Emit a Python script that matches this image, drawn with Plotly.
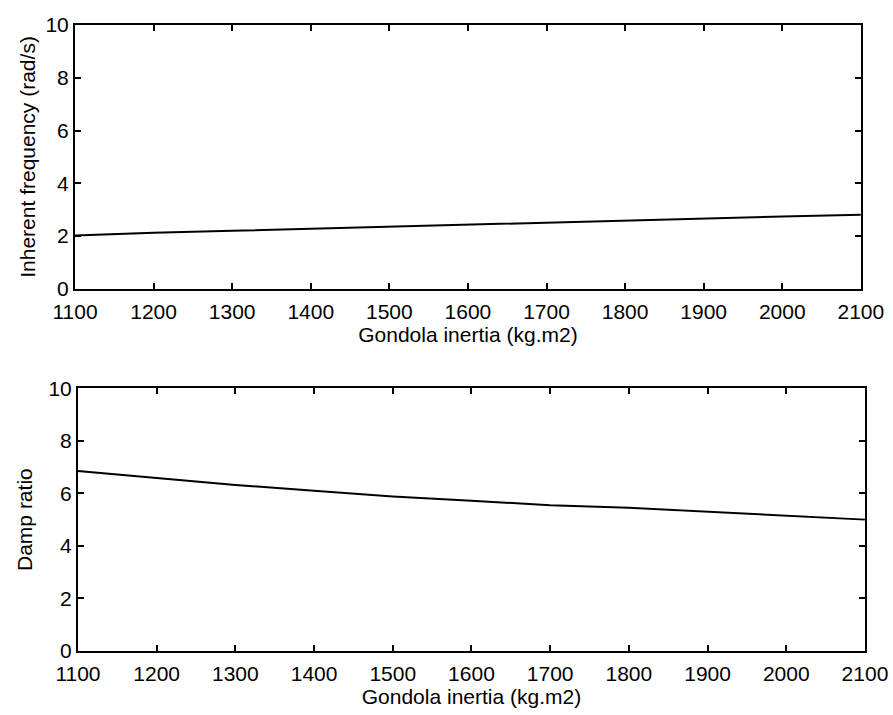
import plotly.graph_objects as go
from plotly.subplots import make_subplots

inertia = [1100, 1200, 1300, 1400, 1500, 1600, 1700, 1800, 1900, 2000, 2100]
frequency = [2.02, 2.13, 2.20, 2.28, 2.36, 2.44, 2.52, 2.60, 2.67, 2.74, 2.81]
damp = [6.85, 6.58, 6.32, 6.10, 5.88, 5.72, 5.55, 5.45, 5.30, 5.15, 5.00]

xticks = [1100, 1200, 1300, 1400, 1500, 1600, 1700, 1800, 1900, 2000, 2100]
yticks = [0, 2, 4, 6, 8, 10]

fig = make_subplots(rows=2, cols=1)
fig.add_trace(go.Scatter(x=inertia, y=frequency, mode="lines",
                         line=dict(color="black", width=2), showlegend=False), row=1, col=1)
fig.add_trace(go.Scatter(x=inertia, y=damp, mode="lines",
                         line=dict(color="black", width=2), showlegend=False), row=2, col=1)

font = dict(family="Liberation Sans, Arial, sans-serif", size=21, color="black")
axcommon = dict(showline=True, linecolor="black", linewidth=2, mirror="ticks",
                ticks="inside", ticklen=6, tickwidth=1.5, tickcolor="black",
                showgrid=False, zeroline=False, tickfont=font)

fig.update_xaxes(**axcommon, range=[1100, 2100], tickvals=xticks, ticklabelstandoff=3,
                 title=dict(text="Gondola inertia (kg.m2)", font=font, standoff=0))
fig.update_yaxes(**axcommon, range=[0, 10], tickvals=yticks)
fig.update_yaxes(title=dict(text="Inherent frequency (rad/s)", font=font, standoff=4), row=1, col=1)
fig.update_yaxes(title=dict(text="Damp ratio", font=font, standoff=10), row=2, col=1)

fig.update_layout(
    width=893, height=715,
    margin=dict(l=0, r=0, t=0, b=0),
    paper_bgcolor="white", plot_bgcolor="white",
    xaxis=dict(domain=[0.084, 0.964], automargin=False),
    yaxis=dict(domain=[0.596, 0.965], automargin=False),
    xaxis2=dict(domain=[0.0873, 0.9686], automargin=False),
    yaxis2=dict(domain=[0.0895, 0.457], automargin=False),
)

fig.write_html("out.html")
